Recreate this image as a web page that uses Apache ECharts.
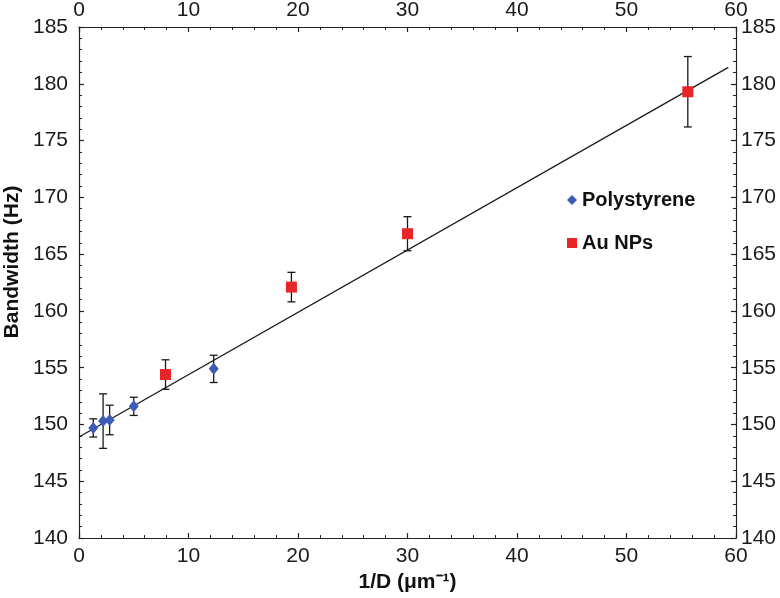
<!DOCTYPE html>
<html>
<head>
<meta charset="utf-8">
<script src="https://cdn.jsdelivr.net/npm/echarts@6/dist/echarts.min.js"></script>
<style>html,body{margin:0;padding:0;background:#fff}#c{width:780px;height:598px}</style>
</head>
<body>
<div id="c"></div>
<script>
// Data
const polyX = [1.3, 2.2, 2.8, 5.0, 12.3];
const polyY = [149.7, 150.3, 150.4, 151.6, 154.9];
const polyErr = [0.8, 2.4, 1.3, 0.8, 1.2];
const auX = [7.9, 19.4, 30.0, 55.6];
const auY = [154.4, 162.1, 166.8, 179.3];
const auErr = [1.3, 1.3, 1.5, 3.1];
const fitX = [0, 59.3];
const fitY = [148.9, 181.45];
const xTicks = [0, 10, 20, 30, 40, 50, 60];
const yTicks = [140, 145, 150, 155, 160, 165, 170, 175, 180, 185];

const FONT = 'Liberation Sans, Arial, sans-serif';
const BLUE = '#3a5cb4';
const RED = '#e8262a';
const polyData = polyX.map((x, i) => [x, polyY[i], polyErr[i]]);
const auData = auX.map((x, i) => [x, auY[i], auErr[i]]);
const fitData = fitX.map((x, i) => [x, fitY[i]]);

function errRender(params, api) {
  const x = api.value(0), y = api.value(1), e = api.value(2);
  const t = api.coord([x, y + e]);
  const b = api.coord([x, y - e]);
  const hw = 4;
  const st = { stroke: '#1a1a1a', lineWidth: 1.3 };
  return {
    type: 'group',
    children: [
      { type: 'line', shape: { x1: t[0], y1: t[1], x2: b[0], y2: b[1] }, style: st },
      { type: 'line', shape: { x1: t[0] - hw, y1: t[1], x2: t[0] + hw, y2: t[1] }, style: st },
      { type: 'line', shape: { x1: b[0] - hw, y1: b[1], x2: b[0] + hw, y2: b[1] }, style: st }
    ]
  };
}

const axisCommon = {
  axisLine: { show: true, onZero: false, lineStyle: { color: '#222', width: 1.2 } },
  axisTick: { show: true, inside: true, length: 5, lineStyle: { color: '#222', width: 1.2 } },
  minorTick: { show: true, splitNumber: 5, length: 3, lineStyle: { color: '#222', width: 1 } },
  splitLine: { show: false },
  axisLabel: { color: '#1a1a1a', fontSize: 21, fontFamily: FONT }
};

const xBase = (pos, margin) => Object.assign({}, axisCommon, {
  type: 'value', position: pos, min: xTicks[0], max: xTicks[xTicks.length - 1], interval: 10,
  axisLabel: Object.assign({}, axisCommon.axisLabel, { margin: margin })
});
const yBase = (pos, margin) => Object.assign({}, axisCommon, {
  type: 'value', position: pos, min: yTicks[0], max: yTicks[yTicks.length - 1], interval: 5,
  axisLabel: Object.assign({}, axisCommon.axisLabel, { margin: margin })
});

const chart = echarts.init(document.getElementById('c'));
chart.setOption({
  animation: false,
  backgroundColor: '#fff',
  grid: { left: 79, right: 44, top: 24, bottom: 58 },
  xAxis: [
    Object.assign(xBase('bottom', 8), {
      name: '1/D (μm⁻¹)', nameLocation: 'middle', nameGap: 29,
      nameTextStyle: { fontSize: 21, fontWeight: 'bold', color: '#111', fontFamily: FONT }
    }),
    xBase('top', 6)
  ],
  yAxis: [yBase('left', 11), yBase('right', 5)],
  legend: {
    orient: 'vertical', left: 562, top: 185, itemGap: 23, itemWidth: 10, itemHeight: 10,
    selectedMode: false, itemStyle: { borderWidth: 0 },
    textStyle: { fontSize: 20, fontWeight: 'bold', color: '#111', fontFamily: FONT },
    data: [
      { name: 'Polystyrene', icon: 'diamond', itemStyle: { color: BLUE } },
      { name: 'Au NPs', icon: 'rect', itemStyle: { color: RED } }
    ]
  },
  graphic: [{
    type: 'text', x: 2, y: 262, rotation: Math.PI / 2,
    style: { text: 'Bandwidth (Hz)', fontSize: 21, fontWeight: 'bold', fill: '#111', fontFamily: FONT,
      align: 'center', verticalAlign: 'top' }
  }],
  series: [
    { type: 'line', name: 'fit', data: fitData, symbol: 'none', lineStyle: { color: '#1a1a1a', width: 1.3 }, z: 1, silent: true },
    { type: 'custom', name: 'polyErr', data: polyData, renderItem: errRender, z: 2, silent: true },
    { type: 'custom', name: 'auErr', data: auData, renderItem: errRender, z: 2, silent: true },
    { type: 'scatter', name: 'Polystyrene', data: polyData, symbol: 'diamond', symbolSize: [10, 12],
      itemStyle: { color: BLUE, opacity: 1 }, z: 3 },
    { type: 'scatter', name: 'Au NPs', data: auData, symbol: 'rect', symbolSize: 11,
      itemStyle: { color: RED, opacity: 1 }, z: 3 }
  ]
});
</script>
</body>
</html>
